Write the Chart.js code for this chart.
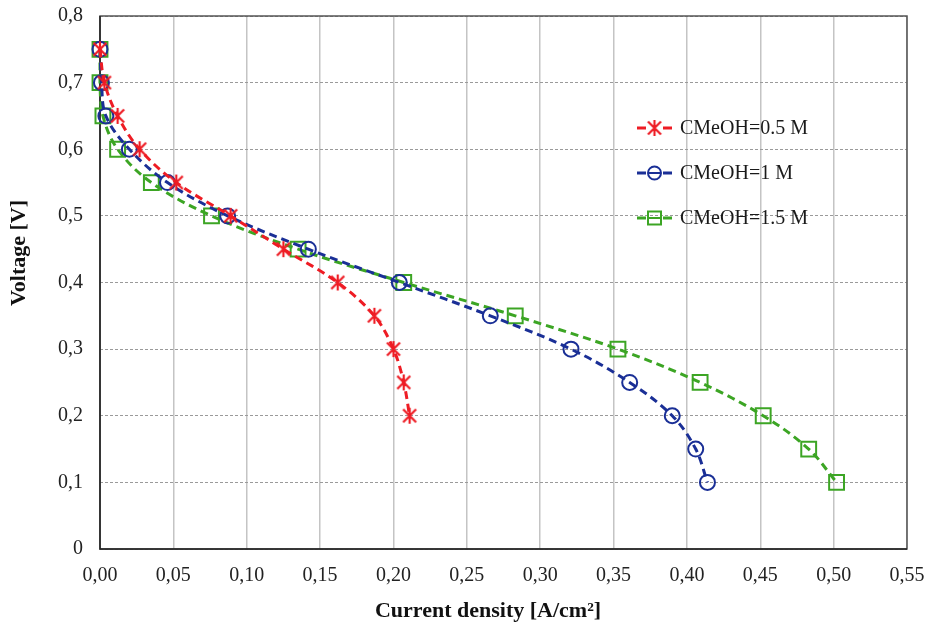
<!DOCTYPE html>
<html>
<head>
<meta charset="utf-8">
<script src="https://cdn.jsdelivr.net/npm/chart.js@4/dist/chart.umd.min.js"></script>
<style>
  html, body { margin: 0; padding: 0; background: #ffffff; }
  #wrap { position: relative; width: 927px; height: 629px; }
</style>
</head>
<body>
<div id="wrap"><canvas id="c"></canvas></div>
<script>
// ---- Data ----
const seriesNames = ['CMeOH=0.5 M', 'CMeOH=1 M', 'CMeOH=1.5 M'];

const voltage05 = [0.75, 0.70, 0.65, 0.60, 0.55, 0.50, 0.45, 0.40, 0.35, 0.30, 0.25, 0.20];
const current05 = [0.000, 0.003, 0.012, 0.027, 0.052, 0.089, 0.125, 0.162, 0.187, 0.200, 0.207, 0.211];

const voltage1 = [0.75, 0.70, 0.65, 0.60, 0.55, 0.50, 0.45, 0.40, 0.35, 0.30, 0.25, 0.20, 0.15, 0.10];
const current1 = [0.000, 0.001, 0.004, 0.020, 0.046, 0.087, 0.142, 0.204, 0.266, 0.321, 0.361, 0.390, 0.406, 0.414];

const voltage15 = [0.75, 0.70, 0.65, 0.60, 0.55, 0.50, 0.45, 0.40, 0.35, 0.30, 0.25, 0.20, 0.15, 0.10];
const current15 = [0.000, 0.000, 0.002, 0.012, 0.035, 0.076, 0.135, 0.207, 0.283, 0.353, 0.409, 0.452, 0.483, 0.502];

const xTitle = 'Current density [A/cm²]';
const yTitle = 'Voltage [V]';

// ---- Styling ----
const RED = '#ee1c24', BLUE = '#1a2f96', GREEN = '#3ca524';
const FONT = "'Liberation Serif', 'DejaVu Serif', serif";

function starCanvas(color) {
  const c = document.createElement('canvas');
  c.width = 18; c.height = 18;
  const g = c.getContext('2d');
  g.strokeStyle = color; g.lineWidth = 2.2;
  g.beginPath();
  g.moveTo(2.5, 2.5); g.lineTo(15.5, 15.5);
  g.moveTo(2.5, 15.5); g.lineTo(15.5, 2.5);
  g.moveTo(9, 1); g.lineTo(9, 17);
  g.stroke();
  return c;
}
const redStar = starCanvas(RED);

function pts(xs, ys) { return xs.map((x, i) => ({ x: x, y: ys[i] })); }

const datasets = [
  { label: seriesNames[0], data: pts(current05, voltage05), borderColor: RED, backgroundColor: 'rgba(0,0,0,0)',
    pointStyle: redStar, pointRadius: 7, pointBorderColor: RED, pointBorderWidth: 2 },
  { label: seriesNames[1], data: pts(current1, voltage1), borderColor: BLUE, backgroundColor: 'rgba(0,0,0,0)',
    pointStyle: 'circle', pointRadius: 7.5, pointBorderColor: BLUE, pointBorderWidth: 2 },
  { label: seriesNames[2], data: pts(current15, voltage15), borderColor: GREEN, backgroundColor: 'rgba(0,0,0,0)',
    pointStyle: 'rect', pointRadius: 10.5, pointBorderColor: GREEN, pointBorderWidth: 2 }
].map(d => Object.assign(d, {
  showLine: true, borderWidth: 3, borderDash: [8, 5], tension: 0.35, clip: false,
  pointBackgroundColor: 'rgba(0,0,0,0)', pointHoverRadius: d.pointRadius
}));

// Frame box, axis titles and legend plugin
const framePlugin = {
  id: 'frame',
  beforeDatasetsDraw(chart) {
    const a = chart.chartArea, ctx = chart.ctx;
    ctx.save();
    ctx.strokeStyle = '#555555'; ctx.lineWidth = 1.5;
    ctx.strokeRect(a.left, a.top, a.right - a.left, a.bottom - a.top);
    ctx.strokeStyle = '#222222';
    ctx.beginPath();
    ctx.moveTo(a.left, a.top); ctx.lineTo(a.left, a.bottom); ctx.lineTo(a.right, a.bottom);
    ctx.stroke();
    ctx.restore();
  },
  afterDraw(chart) {
    const ctx = chart.ctx;
    ctx.save();
    // axis titles
    ctx.fillStyle = '#111111';
    ctx.font = 'bold 22px ' + FONT;
    ctx.textAlign = 'center'; ctx.textBaseline = 'middle';
    ctx.fillText(xTitle, 488, 611);
    ctx.save();
    ctx.translate(19, 253);
    ctx.rotate(-Math.PI / 2);
    ctx.fillText(yTitle, 0, 0);
    ctx.restore();

    // legend
    const rows = [128, 173, 218];
    const colors = [RED, BLUE, GREEN];
    chart.data.datasets.forEach((ds, i) => {
      const y = rows[i], col = colors[i];
      ctx.strokeStyle = col; ctx.lineWidth = 3; ctx.setLineDash([]);
      ctx.beginPath();
      ctx.moveTo(637, y); ctx.lineTo(646, y);
      ctx.moveTo(663, y); ctx.lineTo(672, y);
      ctx.stroke();
      ctx.lineWidth = 2;
      if (i === 0) {
        ctx.drawImage(redStar, 654.5 - 9, y - 9);
      } else if (i === 1) {
        ctx.beginPath(); ctx.arc(654.5, y, 6.5, 0, Math.PI * 2); ctx.stroke();
        ctx.beginPath(); ctx.moveTo(648, y); ctx.lineTo(661, y); ctx.stroke();
      } else {
        ctx.strokeRect(648, y - 6.5, 13, 13);
        ctx.beginPath(); ctx.moveTo(648, y); ctx.lineTo(661, y); ctx.stroke();
      }
      ctx.fillStyle = '#1a1a1a';
      ctx.font = '20px ' + FONT;
      ctx.textAlign = 'left'; ctx.textBaseline = 'middle';
      ctx.fillText(ds.label, 680, y + 1);
    });
    ctx.restore();
  }
};

new Chart(document.getElementById('c'), {
  type: 'scatter',
  data: { datasets: datasets },
  plugins: [framePlugin],
  options: {
    responsive: true,
    maintainAspectRatio: false,
    animation: false,
    layout: { padding: { top: 16, right: 20, bottom: 0, left: 0 } },
    plugins: { legend: { display: false }, tooltip: { enabled: false } },
    scales: {
      x: {
        type: 'linear', min: 0, max: 0.55,
        afterFit(s) { s.height = 80; s.paddingLeft = 0; s.paddingRight = 0; },
        border: { display: false },
        grid: { color: '#c4c4c4', lineWidth: 1.5, drawTicks: false },
        ticks: {
          stepSize: 0.05, padding: 15, color: '#222222',
          font: { family: FONT, size: 20 },
          callback: v => v.toFixed(2).replace('.', ',')
        },
        title: { display: false, text: xTitle }
      },
      y: {
        type: 'linear', min: 0, max: 0.8,
        afterFit(s) { s.width = 100; s.paddingTop = 0; s.paddingBottom = 0; },
        border: { display: false, dash: [3, 2] },
        grid: { color: '#9a9a9a', lineWidth: 1, drawTicks: false },
        ticks: {
          stepSize: 0.1, padding: 17, color: '#222222',
          font: { family: FONT, size: 20 },
          callback: v => (Math.abs(v) < 1e-9 ? '0' : v.toFixed(1).replace('.', ','))
        },
        title: { display: false, text: yTitle }
      }
    }
  }
});
</script>
</body>
</html>
